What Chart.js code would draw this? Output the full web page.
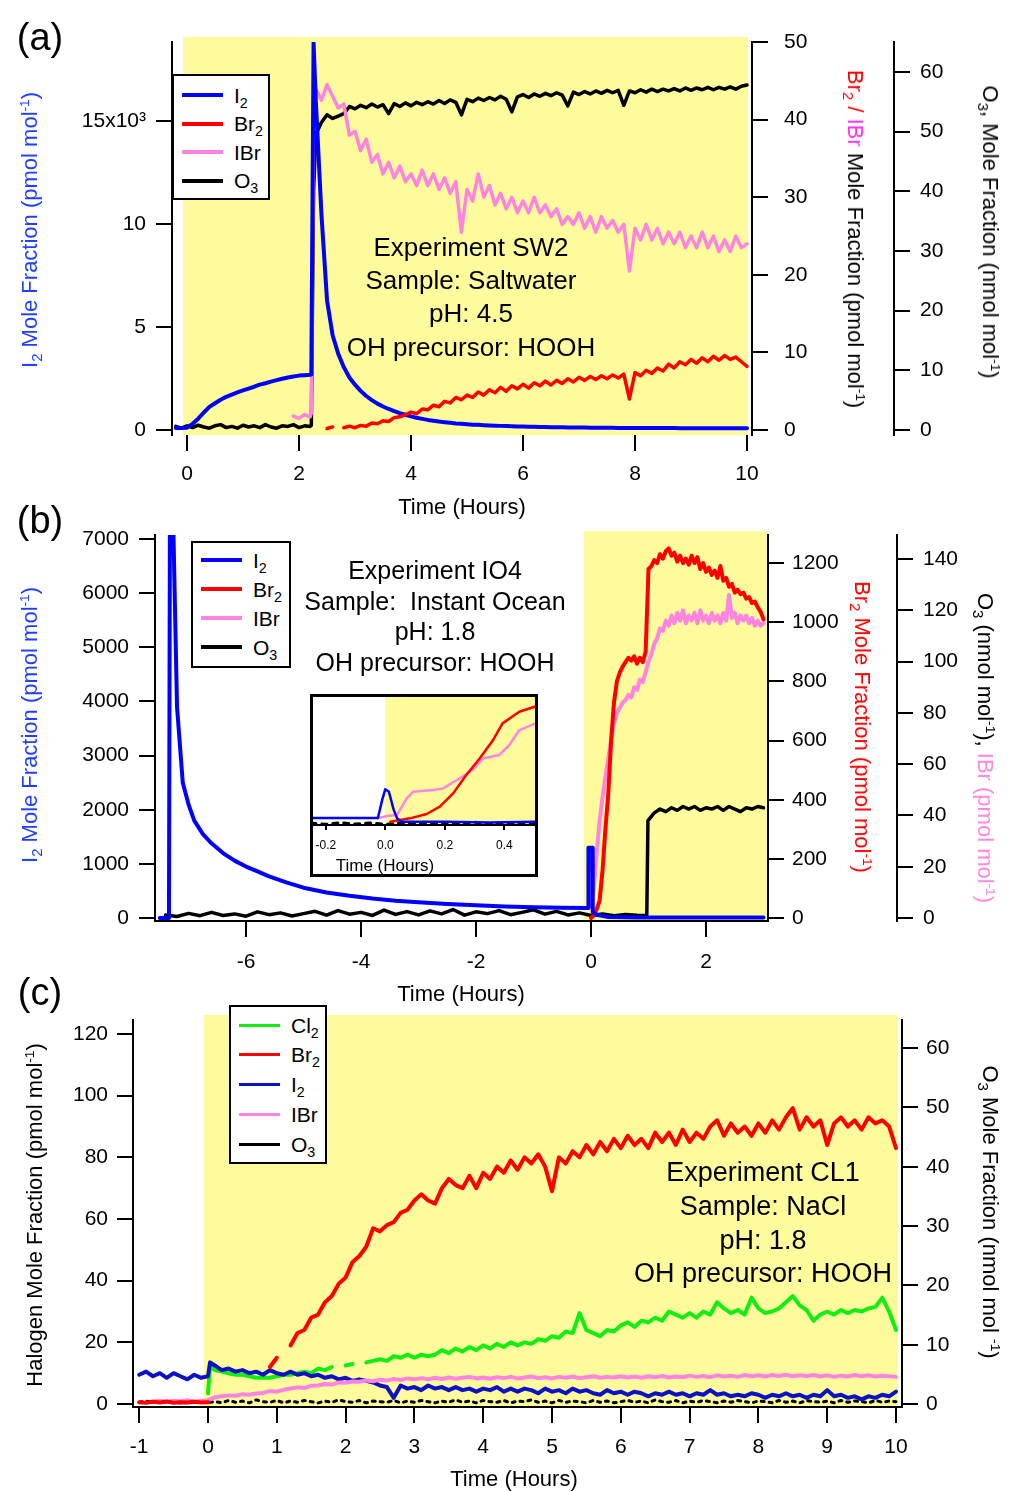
<!DOCTYPE html>
<html>
<head>
<meta charset="utf-8">
<title>Halogen time series</title>
<script src="https://cdn.jsdelivr.net/npm/chart.js@4.4.1/dist/chart.umd.min.js"></script>
<style>
  body { margin: 0; background: #fff; }
  #page { position: relative; width: 1012px; height: 1491px; overflow: hidden;
          font-family: "Liberation Sans", Arial, sans-serif; color: #000; }
  #page > canvas { position: absolute; left: 0; }
  .txt { position: absolute; white-space: nowrap; transform: translate(-50%, -50%); line-height: 1; font-size: 22px; z-index: 5; }
  .up { transform: translate(-50%, -50%) rotate(-90deg); }
  .down { transform: translate(-50%, -50%) rotate(90deg); }
  sub { font-size: 0.68em; vertical-align: -0.32em; line-height: 0; }
  sup { font-size: 0.62em; vertical-align: 0.62em; line-height: 0; }
  .legend { position: absolute; background: #fff; border: 2px solid #000; box-sizing: border-box; z-index: 4; }
  .legend .row { position: absolute; left: 0; display: flex; align-items: center; height: 28px; }
  .legend .swatch { width: 41px; height: 4px; margin-left: 8px; }
  .legend .name { margin-left: 11px; font-size: 21px; line-height: 1; }
  #inset { position: absolute; left: 310px; top: 694px; width: 228px; height: 183px; box-sizing: border-box;
           border: 3px solid #000; background: #fff; z-index: 3; }
  #inset canvas { position: absolute; left: 0; top: 0; }
</style>
</head>
<body>
<div id="page">
  <canvas id="chartA" width="1012" height="525" style="top:0"></canvas>
  <canvas id="chartB" width="1012" height="480" style="top:525px"></canvas>
  <canvas id="chartC" width="1012" height="486" style="top:1005px"></canvas>
  <div id="inset"><canvas id="chartIn" width="222" height="177"></canvas></div>

  <div class="legend" id="legA" style="left:172px;top:74px;width:98px;height:126px"></div>
  <div class="legend" id="legB" style="left:191px;top:541px;width:100px;height:127px"></div>
  <div class="legend" id="legC" style="left:229px;top:1005px;width:98px;height:159px"></div>

  <!-- panel labels -->
  <div class="txt" style="left:40px;top:37px;font-size:38px">(a)</div>
  <div class="txt" style="left:40px;top:520px;font-size:38px">(b)</div>
  <div class="txt" style="left:40px;top:992px;font-size:38px">(c)</div>

  <!-- (a) axis titles -->
  <div class="txt up" style="left:30px;top:230px;color:#1f3fff">I<sub>2</sub> Mole Fraction (pmol mol<sup>-1</sup>)</div>
  <div class="txt down" style="left:855px;top:239px"><span style="color:#ff0000">Br<sub>2</sub> /</span> <span style="color:#ff33ee">IBr</span> Mole Fraction (pmol mol<sup>-1</sup>)</div>
  <div class="txt down" style="left:990px;top:232px">O<sub>3</sub>, Mole Fraction (nmol mol<sup>-1</sup>)</div>
  <div class="txt" style="left:462px;top:507px">Time (Hours)</div>
  <div class="txt" style="left:471px;top:247px;font-size:26px">Experiment SW2</div>
  <div class="txt" style="left:471px;top:280px;font-size:26px">Sample: Saltwater</div>
  <div class="txt" style="left:471px;top:313px;font-size:26px">pH: 4.5</div>
  <div class="txt" style="left:471px;top:347px;font-size:26px">OH precursor: HOOH</div>

  <!-- (b) axis titles -->
  <div class="txt up" style="left:30px;top:725px;color:#1f3fff">I<sub>2</sub> Mole Fraction (pmol mol<sup>-1</sup>)</div>
  <div class="txt down" style="left:862px;top:727px;color:#ff0000">Br<sub>2</sub> Mole Fraction (pmol mol<sup>-1</sup>)</div>
  <div class="txt down" style="left:985px;top:748px">O<sub>3</sub> (nmol mol<sup>-1</sup>), <span style="color:#ff88e0">IBr (pmol mol<sup>-1</sup>)</span></div>
  <div class="txt" style="left:461px;top:994px">Time (Hours)</div>
  <div class="txt" style="left:435px;top:570px;font-size:25px">Experiment IO4</div>
  <div class="txt" style="left:435px;top:601px;font-size:25px">Sample:&nbsp; Instant Ocean</div>
  <div class="txt" style="left:435px;top:631px;font-size:25px">pH: 1.8</div>
  <div class="txt" style="left:435px;top:662px;font-size:25px">OH precursor: HOOH</div>
  <div class="txt" style="left:385px;top:865px;font-size:17px">Time (Hours)</div>

  <!-- (c) axis titles -->
  <div class="txt up" style="left:35px;top:1215px">Halogen Mole Fraction (pmol mol<sup>-1</sup>)</div>
  <div class="txt down" style="left:990px;top:1212px">O<sub>3</sub> Mole Fraction (nmol mol <sup>-1</sup>)</div>
  <div class="txt" style="left:514px;top:1479px">Time (Hours)</div>
  <div class="txt" style="left:763px;top:1172px;font-size:27px">Experiment CL1</div>
  <div class="txt" style="left:763px;top:1206px;font-size:27px">Sample: NaCl</div>
  <div class="txt" style="left:763px;top:1240px;font-size:27px">pH: 1.8</div>
  <div class="txt" style="left:763px;top:1273px;font-size:27px">OH precursor: HOOH</div>
</div>

<script>
const COLORS = {
  blue: '#0000ff',
  blueC: '#0a12c4',
  red: '#ff0000',
  pink: '#ff84e2',
  green: '#12ee12',
  black: '#000000',
  shade: '#fdfb9c'
};

// ---------- panel (a): Experiment SW2 ----------
const tA = [-0.2,-0.1,0,0.1,0.2,0.3,0.4,0.5,0.6,0.7,0.8,0.9,1,1.1,1.2,1.3,1.4,1.5,1.6,1.7,1.8,1.9,2,2.1,2.2,2.22,2.26,
  2.3,2.4,2.5,2.6,2.7,2.8,2.9,3,3.1,3.2,3.3,3.4,3.5,3.6,3.7,3.8,3.9,4,4.1,4.2,4.3,4.4,4.5,4.6,4.7,4.8,4.9,5,
  5.1,5.2,5.3,5.4,5.5,5.6,5.7,5.8,5.9,6,6.1,6.2,6.3,6.4,6.5,6.6,6.7,6.8,6.9,7,7.1,7.2,7.3,7.4,7.5,7.6,7.7,7.8,7.9,8,
  8.1,8.2,8.3,8.4,8.5,8.6,8.7,8.8,8.9,9,9.1,9.2,9.3,9.4,9.5,9.6,9.7,9.8,9.9,10];
const i2A = [100,100,110,300,550,850,1120,1300,1470,1610,
  1720,1830,1920,2010,2100,2200,2270,2350,2420,2490,
  2550,2600,2640,2660,2680,
  2700,18800,
  16000,10500,6300,4600,3700,3050,2550,2200,1900,1650,
  1450,1280,1140,1020,920,820,740,660,590,540,
  490,450,410,380,350,320,300,280,260,250,
  235,220,210,200,190,180,172,165,158,152,
  146,140,136,132,128,125,122,119,116,113,
  110,108,106,104,102,100,99,98,97,96,
  95,94,93,92,91,90,89,88,87,86,
  85,84,83,82,82,81,80,80];
const br2A = [null,null,null,null,null,null,null,null,null,null,
  null,null,null,null,null,null,null,null,null,null,
  null,null,null,null,null,
  null,null,
  null,null,0.2,0.4,null,0.3,0.5,0.3,0.6,0.5,
  0.9,0.8,1.2,1.1,1.6,1.7,2.0,2.3,2.1,2.7,
  2.6,3.2,3.0,3.7,3.5,4.2,3.9,4.5,4.2,4.9,
  4.5,5.2,4.8,5.5,5.0,5.7,5.3,5.9,5.4,6.1,
  5.7,6.3,5.8,6.4,6.0,6.6,6.2,6.8,6.4,6.9,
  6.5,7.0,6.6,7.1,6.7,7.2,4.0,7.4,7.0,7.7,
  7.3,8.0,7.6,8.5,8.0,8.8,8.4,9.1,8.6,9.3,
  8.8,9.5,9.0,9.6,9.1,9.4,8.8,8.2];
const ibrA = [null,null,null,null,null,null,null,null,null,null,
  null,null,null,null,null,null,null,null,null,null,
  null,1.8,1.5,2.0,1.7,
  2.2,40,
  44,42.5,44.5,43,41.5,42,38,38.5,36,37.5,
  34.5,35.5,33,34.5,32.5,34,32,33,31.5,33.5,
  31.5,33,31,32.5,30.5,32,25.5,31,29.5,33,
  30,31.5,29,30.5,28.5,30,28,29.5,28,30,
  28,29,27.5,28.5,26.5,27.5,26.5,28,26,27.5,
  25.5,27.5,26,27,25.5,26.5,20.5,26,24.5,26.5,
  24.5,26,24,25.5,24,25.5,23.5,25,23.5,25.5,
  23.5,25,23,24.5,23,25,23.5,24];
const o3A = [0.6,0.3,0.7,0.4,0.8,0.5,0.3,0.7,0.9,0.4,
  0.6,0.3,0.8,0.5,0.7,0.4,0.9,0.5,0.3,0.7,
  0.6,0.9,0.4,0.7,0.6,
  0.8,40,
  49.5,51.5,52.8,52.2,52.6,53.0,54.2,53.8,54.4,54.0,
  54.6,54.1,54.5,53.0,54.7,54.2,54.8,54.3,54.9,54.5,
  55.0,54.6,55.2,54.7,55.3,54.9,52.8,55.4,55.0,55.6,
  55.2,55.7,55.3,55.9,55.4,53.3,55.8,56.2,55.7,56.3,
  55.9,56.4,56.0,56.5,56.1,54.3,56.6,56.2,56.7,56.3,
  56.8,56.4,56.9,56.5,56.9,54.4,56.8,56.5,57.0,56.6,
  57.1,56.7,57.1,56.8,57.2,56.8,57.3,56.9,57.3,57.0,
  57.4,57.0,57.4,57.1,57.5,57.1,57.6,57.8];
const xTicksA = [0, 2, 4, 6, 8, 10];
const yTicksA = [0, 5000, 10000, 15000];
const yLabelsA = ['0', '5', '10', '15x10³'];
const br2TicksA = [0, 10, 20, 30, 40, 50];
const o3TicksA = [0, 10, 20, 30, 40, 50, 60];
const shadeA = [-0.07, 10.02];

// ---------- panel (b): Experiment IO4 ----------
const tBi2 = [-7.5,-7.34,-7.32,-7.27,-7.2,-7.1,-7.0,-6.9,-6.75,-6.6,-6.4,-6.2,-6.0,-5.8,-5.6,-5.3,-5.0,-4.6,-4.2,-3.8,
  -3.4,-3.0,-2.5,-2.0,-1.5,-1.0,-0.5,-0.05,-0.045,0.025,0.03,0.1,0.3,0.8,1.5,2.0,2.5,3.0];
const i2B = [0,0,9000,7500,3900,2500,2100,1800,1550,1380,1200,1060,950,860,770,660,560,470,410,360,
  320,290,260,235,215,200,190,185,1300,1300,110,60,20,10,10,8,10,8];
const tBo3 = [-7.4,-7.2,-7.0,-6.8,-6.6,-6.4,-6.2,-6.0,-5.8,-5.6,-5.4,-5.2,-5.0,-4.8,-4.6,-4.4,-4.2,-4.0,-3.8,-3.6,
  -3.4,-3.2,-3.0,-2.8,-2.6,-2.4,-2.2,-2.0,-1.8,-1.6,-1.4,-1.2,-1.0,-0.8,-0.6,-0.4,-0.2,0,0.2,0.4,0.6,0.8,
  0.97,0.99,1.1,1.2,1.3,1.4,1.5,1.6,1.7,1.8,1.9,2.0,2.1,2.2,2.3,2.4,2.5,2.6,2.7,2.8,2.9,3.0];
const o3B = [1.2,0.6,1.8,0.9,2.2,1.0,1.6,0.7,2.4,1.3,2.0,0.8,1.7,2.6,1.1,2.9,1.5,2.2,1.0,3.1,
  1.4,2.5,1.2,2.8,1.6,3.3,1.1,2.4,1.7,2.9,1.3,2.2,3.2,1.5,2.6,1.2,2.0,1.0,1.6,0.9,1.4,1.1,
  1.0,38,41,42.5,41.5,43,42,43.5,42.5,43.5,42,43,42.5,43.5,42,43.5,42.5,41.5,43,42.5,43.5,43];
const tB2 = [-0.05,0,0.05,0.1,0.15,0.2,0.25,0.3,0.35,0.4,0.45,0.5,0.55,0.6,0.65,0.7,0.75,0.8,0.85,0.9,
  0.95,1,1.05,1.1,1.15,1.2,1.25,1.3,1.35,1.4,1.45,1.5,1.55,1.6,1.65,1.7,1.75,1.8,1.85,1.9,
  1.95,2,2.05,2.1,2.15,2.2,2.25,2.3,2.35,2.4,2.45,2.5,2.55,2.6,2.65,2.7,2.75,2.8,2.85,2.9,2.95,3];
const br2B = [null,0,10,30,60,160,300,420,600,730,800,830,850,865,880,870,885,860,880,865,
  900,1180,1190,1210,1200,1230,1215,1240,1250,1225,1235,1205,1225,1200,1215,1195,1225,1200,1220,1180,
  1200,1170,1185,1160,1175,1150,1190,1140,1150,1120,1130,1100,1110,1095,1100,1080,1085,1065,1070,1050,1035,1010];
const ibrB = [4,5,12,26,38,47,55,62,70,76,80,82,84,85,87,86,90,89,93,92,
  96,100,103,107,109,113,112,116,114,118,115,119,116,120,115,118,116,119,115,120,
  116,118,115,119,116,118,115,119,116,126,117,119,115,118,116,118,115,117,114,116,114,115];
const xTicksB = [-6, -4, -2, 0, 2];
const yTicksB = [0, 1000, 2000, 3000, 4000, 5000, 6000, 7000];
const br2TicksB = [0, 200, 400, 600, 800, 1000, 1200];
const o3TicksB = [0, 20, 40, 60, 80, 100, 120, 140];
const shadeB = [-0.13, 3.1];

// ---------- inset of (b), relative signal ----------
const tInI2 = [-0.25,-0.025,-0.01,0,0.012,0.028,0.04,0.055,0.2,0.35,0.51];
const i2In = [5.5,5.5,20,28,26,12,5,2.5,2.5,2,2.5];
const tInIbr = [-0.028,0.006,0.039,0.072,0.094,0.161,0.194,0.25,0.294,0.328,0.383,0.417,0.45,0.51];
const ibrIn = [5.2,7,7.8,20.8,26,27.3,28.6,36.5,43,52,54.7,62.5,74,80];
const tInBr2 = [0.017,0.083,0.139,0.183,0.228,0.272,0.317,0.361,0.394,0.45,0.51];
const br2In = [2.6,5.2,8.6,14.3,24.7,39,52,66,79.4,88.5,93];
const tInO3 = [-0.25,-0.2,-0.15,-0.1,-0.05,0,0.05,0.1,0.15,0.2,0.25,0.3,0.35,0.4,0.45,0.51];
const o3In = [1.5,0.5,1.8,0.7,1.6,0.4,1.7,1.2,0.6,1.9,1.3,2.2,0.8,2.0,1.4,1.8];
const xTicksIn = [-0.2, 0, 0.2, 0.4];
const xLabelsIn = ['-0.2', '0.0', '0.2', '0.4'];
const shadeIn = [0, 0.6];

// ---------- panel (c): Experiment CL1 ----------
const tC = [-1,-0.9,-0.8,-0.7,-0.6,-0.5,-0.4,-0.3,-0.2,-0.1,0,0.03,
  0.1,0.2,0.3,0.4,0.5,0.6,0.7,0.8,0.9,1,
  1.1,1.2,1.3,1.4,1.5,1.6,1.7,1.8,1.9,2,
  2.1,2.2,2.3,2.4,2.5,2.6,2.7,2.8,2.9,3,
  3.1,3.2,3.3,3.4,3.5,3.6,3.7,3.8,3.9,4,
  4.1,4.2,4.3,4.4,4.5,4.6,4.7,4.8,4.9,5,
  5.1,5.2,5.3,5.4,5.5,5.6,5.7,5.8,5.9,6,
  6.1,6.2,6.3,6.4,6.5,6.6,6.7,6.8,6.9,7,
  7.1,7.2,7.3,7.4,7.5,7.6,7.7,7.8,7.9,8,
  8.1,8.2,8.3,8.4,8.5,8.6,8.7,8.8,8.9,9,
  9.1,9.2,9.3,9.4,9.5,9.6,9.7,9.8,9.9,10];
const cl2C = [null,null,null,null,null,null,null,null,null,null,3.5,12,
  11,10.5,10,9.5,9.5,9,8.5,8.5,8.5,9,
  9.5,9.5,10,10.5,10,11.5,11,12,null,12.5,
  13,null,13.5,14,14.5,14,15.5,15,16,15,
  16,15.5,16,17.5,16.5,18,17,18.5,17.5,19,
  18,19.5,18.5,20,19,20,19.5,21,20.5,22,
  21.5,23.5,23,29.5,24,23,22,24,23.5,25.5,
  26.5,25,27,26.5,28,27,30,29,28,29.5,
  28,30,29,33,31,29.5,30.5,29,34.5,31,
  29.5,30,31,33,35,32,30.5,27,29,30,
  29,30.5,29.5,30.5,30,31,31.5,34.5,30,24];
const br2C = [0.6,0.4,0.7,0.5,0.8,0.4,0.6,0.5,0.7,0.5,0.6,null,
  null,null,null,null,null,null,null,null,12,15,
  null,19,23,24,28,29,33,35,39,41,
  46,48,51,57,56,58,59,62,63,66,
  68,66,65,70,73,71,70,74,70,75,
  73,77,75,79,76,80,78,81,77,69,
  80,78,82,80,84,81,85,82,86,83,
  87,84,86,83,88,85,88,84,89,85,
  88,86,90,92,87,91,88,90,87,91,
  88,92,89,93,96,89,93,90,92,84,
  91,93,90,92,89,93,91,92,90,83];
const i2C = [9.5,10.5,9,10,8.5,10,9,8,9.5,8.5,9,13.5,
  12.5,11,11.5,10.5,11,10,10.5,9.5,11,10,
  9.5,10.5,9.5,10,9,9.5,8.5,9,8,8.5,
  7.5,8,7.5,7,6,5.5,2,6,5,5.5,
  4.5,6,5,5.5,4.5,5.5,4.5,5,4,5,
  4.5,5.5,4,5,4,5,4.5,3.5,5,4,
  4.5,3.5,5,4,4.5,3.5,3,4.5,3.5,4,
  3,4,3.5,2.5,3.5,3,4,3,3.5,2.5,
  3.5,3,4.5,3,3.5,2.5,3,2.5,3.5,3,
  2,3,2.5,3.5,2.5,3,2,3,2.5,4.5,
  2.5,3,2,2.5,1.5,2.5,2,3,2.5,4];
const ibrC = [null,null,0.8,1.0,0.7,1.1,0.9,1.2,0.8,1.0,1.2,1.5,
  2.2,2.5,2.8,2.7,3.2,3.0,3.4,3.6,4.2,4.0,
  4.6,5.0,5.4,5.2,5.9,6.0,6.5,6.3,7.0,6.9,
  7.3,7.2,7.6,7.4,7.9,7.6,8.1,7.8,8.3,8.0,
  8.4,8.0,8.5,8.1,8.6,8.2,8.5,8.8,8.3,8.6,
  8.2,8.7,8.4,8.8,8.3,8.6,8.9,8.4,8.7,8.3,
  8.8,8.5,8.9,8.4,8.7,9.0,8.5,8.8,8.6,9.0,
  8.6,8.9,8.5,9.0,8.7,9.1,8.6,8.9,8.7,9.2,
  8.8,9.1,8.7,9.3,8.9,9.2,8.8,9.4,9.0,9.3,
  8.9,9.4,9.1,9.5,9.0,9.3,9.1,9.4,8.9,9.3,
  8.8,9.2,8.9,9.4,9.0,9.3,8.9,9.2,9.0,8.8];
const o3C = [0.3,0.5,0.2,0.6,0.3,0.4,0.2,0.5,0.3,0.4,0.5,0.3,
  0.4,0.2,0.6,0.3,0.5,0.2,0.7,0.4,0.3,0.6,
  0.2,0.5,0.3,0.6,0.4,0.2,0.5,0.3,0.7,0.4,
  0.3,0.6,0.2,0.5,0.4,0.3,0.6,0.2,0.5,0.3,
  0.6,0.4,0.2,0.5,0.3,0.7,0.3,0.5,0.2,0.6,
  0.4,0.3,0.6,0.2,0.5,0.4,0.7,0.3,0.5,0.2,
  0.6,0.3,0.5,0.4,0.2,0.6,0.3,0.5,0.2,0.4,
  0.6,0.3,0.5,0.2,0.7,0.4,0.3,0.6,0.2,0.5,
  0.3,0.6,0.4,0.2,0.5,0.3,0.6,0.4,0.2,0.5,
  0.4,0.2,0.6,0.3,0.5,0.2,0.6,0.4,0.3,0.5,
  0.2,0.6,0.3,0.5,0.4,0.2,0.6,0.3,0.5,0.4];
const xTicksC = [-1, 0, 1, 2, 3, 4, 5, 6, 7, 8, 9, 10];
const yTicksC = [0, 20, 40, 60, 80, 100, 120];
const o3TicksC = [0, 10, 20, 30, 40, 50, 60];
const shadeC = [-0.06, 10.03];

// ---------- helpers ----------
Chart.defaults.font.family = '"Liberation Sans", Arial, sans-serif';
Chart.defaults.font.size = 21;
Chart.defaults.color = '#000';

// yellow "lights on" band, drawn under the axes
Chart.register({
  id: 'shade',
  beforeDraw(chart, args, opts) {
    if (!opts || !opts.range) return;
    const { ctx, chartArea } = chart;
    const xs = chart.scales.x;
    const x0 = Math.max(xs.getPixelForValue(opts.range[0]), chartArea.left);
    const x1 = Math.min(xs.getPixelForValue(opts.range[1]), chartArea.right);
    const top = chartArea.top - (opts.extraTop || 0);
    ctx.save();
    ctx.fillStyle = COLORS.shade;
    ctx.fillRect(x0, top, x1 - x0, chartArea.bottom - top);
    ctx.restore();
  }
});

function series(t, v, color, axisId, width, order, extra) {
  if (t.length !== v.length) throw new Error('length mismatch: ' + t.length + ' vs ' + v.length + ' (' + color + ')');
  return Object.assign({
    data: t.map((x, i) => ({ x, y: v[i] })),
    borderColor: color, backgroundColor: color, borderWidth: width,
    pointRadius: 0, tension: 0, spanGaps: false, yAxisID: axisId, order,
    borderJoinStyle: 'round', borderCapStyle: 'round'
  }, extra || {});
}

function axis(position, min, max, ticks, o) {
  const vertical = position === 'left' || position === 'right';
  return {
    type: 'linear', position, min, max, weight: o.weight || 0,
    afterBuildTicks: s => { s.ticks = ticks.map(v => ({ value: v })); },
    afterFit: s => {
      if (vertical) s.width = o.size; else s.height = o.size;
      // tick labels may overhang; keep the plot box where the layout puts it
      s.paddingTop = 0; s.paddingBottom = 0; s.paddingLeft = 0; s.paddingRight = 0;
    },
    ticks: {
      padding: o.pad, autoSkip: false, maxRotation: 0, color: '#000',
      font: { size: o.font || 21 },
      callback: (v, i) => (o.labels ? o.labels[i] : String(v))
    },
    grid: { drawOnChartArea: false, drawTicks: true, tickLength: o.tick || 16, tickWidth: 2,
            tickColor: '#000', color: '#000', lineWidth: 2 },
    border: { display: o.line !== false, color: '#000', width: 2 }
  };
}

function options(padTop, shade, extraTop, scales) {
  return {
    responsive: false, animation: false, events: [],
    layout: { padding: { top: padTop, left: 0, right: 0, bottom: 0 } },
    plugins: { legend: { display: false }, tooltip: { enabled: false }, shade: { range: shade, extraTop } },
    scales
  };
}

function buildLegend(id, items, firstY, step) {
  const box = document.getElementById(id);
  items.forEach((it, i) => {
    const row = document.createElement('div');
    row.className = 'row';
    row.style.top = (firstY + i * step - 14) + 'px';
    row.innerHTML = '<span class="swatch" style="background:' + it.color + ';height:' + (it.h || 4) + 'px"></span>' +
                    '<span class="name">' + it.html + '</span>';
    box.appendChild(row);
  });
}

// ---------- charts ----------
new Chart(document.getElementById('chartA'), {
  type: 'line',
  data: { datasets: [
    series(tA, br2A, COLORS.red, 'y1', 3.5, 0),
    series(tA, i2A, COLORS.blue, 'y', 4, 1),
    series(tA, ibrA, COLORS.pink, 'y1', 3.5, 2),
    series(tA, o3A, COLORS.black, 'y2', 3.5, 3)
  ] },
  options: options(42, shadeA, 5, {
    x: axis('bottom', -0.268, 10.089, xTicksA, { size: 90, pad: 11, line: false }),
    y: axis('left', -243, 18835, yTicksA, { size: 172, pad: 10, labels: yLabelsA }),
    y1: axis('right', -0.64, 50, br2TicksA, { size: 142, pad: 16, weight: 0 }),
    y2: axis('right', -0.84, 65.0, o3TicksA, { size: 118, pad: 10, weight: 1 })
  })
});

new Chart(document.getElementById('chartB'), {
  type: 'line',
  data: { datasets: [
    series(tBi2, i2B, COLORS.blue, 'y', 4, 0),
    series(tB2, br2B, COLORS.red, 'y1', 4, 1),
    series(tB2, ibrB, COLORS.pink, 'y2', 4, 2),
    series(tBo3, o3B, COLORS.black, 'y2', 3.5, 3)
  ] },
  options: options(10, shadeB, 4, {
    x: axis('bottom', -7.583, 3.078, xTicksB, { size: 84, pad: 13 }),
    y: axis('left', -55, 7074, yTicksB, { size: 155, pad: 10 }),
    y1: axis('right', -10.1, 1295, br2TicksB, { size: 129, pad: 8, weight: 0 }),
    y2: axis('right', -1.17, 149.4, o3TicksB, { size: 115, pad: 10, weight: 1 })
  })
});

new Chart(document.getElementById('chartIn'), {
  type: 'line',
  data: { datasets: [
    series(tInI2, i2In, COLORS.blue, 'y', 2.5, 0),
    series(tInBr2, br2In, COLORS.red, 'y', 2.5, 1),
    series(tInIbr, ibrIn, COLORS.pink, 'y', 2.5, 2),
    series(tInO3, o3In, COLORS.black, 'y', 3, 3, { borderDash: [5, 6] })
  ] },
  options: options(0, shadeIn, 0, {
    x: axis('bottom', -0.243, 0.503, xTicksIn, { size: 49, pad: 8, tick: 5, font: 12, labels: xLabelsIn }),
    y: { type: 'linear', display: false, min: 0, max: 100 }
  })
});

new Chart(document.getElementById('chartC'), {
  type: 'line',
  data: { datasets: [
    series(tC, br2C, COLORS.red, 'y', 4, 0),
    series(tC, ibrC, COLORS.pink, 'y', 4, 1),
    series(tC, i2C, COLORS.blueC, 'y', 4, 2),
    series(tC, cl2C, COLORS.green, 'y', 4, 3),
    series(tC, o3C, COLORS.black, 'y1', 3, 4, { borderDash: [3, 5] })
  ] },
  options: options(15, shadeC, 5, {
    x: axis('bottom', -1.09, 10.087, xTicksC, { size: 84, pad: 12 }),
    y: axis('left', -0.97, 124.55, yTicksC, { size: 133, pad: 9 }),
    y1: axis('right', -0.5, 64.75, o3TicksC, { size: 110, pad: 8 })
  })
});

// ---------- legends ----------
buildLegend('legA', [
  { html: 'I<sub>2</sub>', color: COLORS.blue },
  { html: 'Br<sub>2</sub>', color: COLORS.red },
  { html: 'IBr', color: COLORS.pink },
  { html: 'O<sub>3</sub>', color: COLORS.black }
], 19, 28.5);
buildLegend('legB', [
  { html: 'I<sub>2</sub>', color: COLORS.blue },
  { html: 'Br<sub>2</sub>', color: COLORS.red },
  { html: 'IBr', color: COLORS.pink },
  { html: 'O<sub>3</sub>', color: COLORS.black }
], 17, 29);
buildLegend('legC', [
  { html: 'Cl<sub>2</sub>', color: COLORS.green, h: 3 },
  { html: 'Br<sub>2</sub>', color: COLORS.red, h: 3 },
  { html: 'I<sub>2</sub>', color: COLORS.blueC, h: 3 },
  { html: 'IBr', color: COLORS.pink, h: 3 },
  { html: 'O<sub>3</sub>', color: COLORS.black, h: 3 }
], 18, 29.75);
</script>
</body>
</html>
